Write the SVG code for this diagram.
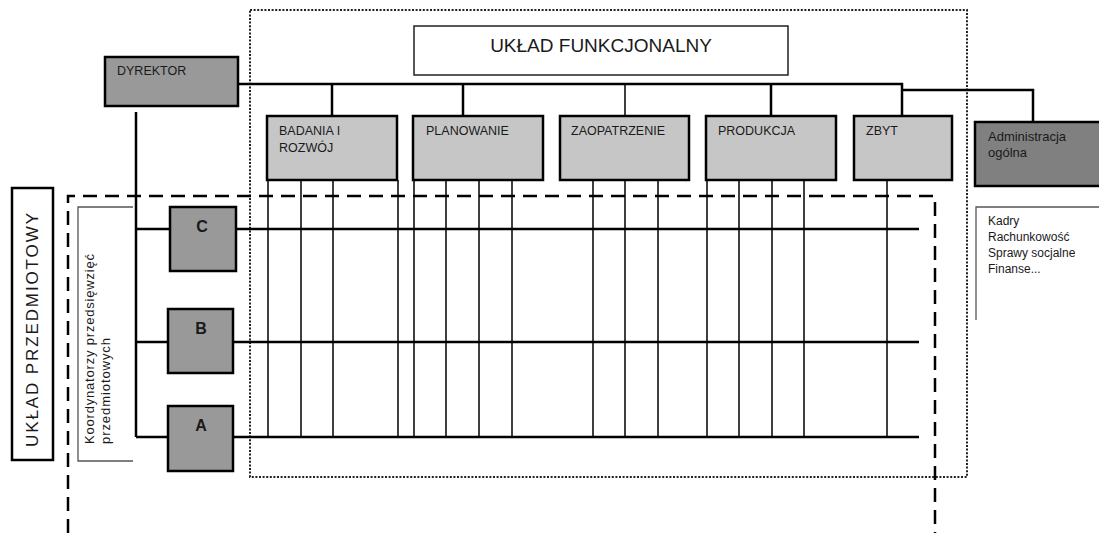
<svg xmlns="http://www.w3.org/2000/svg" width="1099" height="533" viewBox="0 0 1099 533">
<style>
text{font-family:"Liberation Sans",Arial,sans-serif;fill:#1a1a1a}
.lbl{font-size:12.5px}
.box{stroke:#000;stroke-width:2.5}
.dept{fill:#c6c6c6}
.dark{fill:#999}
.thick{stroke:#000;stroke-width:2.5;fill:none}
.thin{stroke:#000;stroke-width:1.5;fill:none}
.bracket{stroke:#555;stroke-width:1.3;fill:none}
.letter{font-size:16px;font-weight:bold;text-anchor:middle}
</style>
<rect width="1099" height="533" fill="#fff"/>
<!-- frames -->
<rect x="250" y="10" width="717" height="467" fill="none" stroke="#222" stroke-width="2" stroke-dasharray="2 1.6"/>
<path d="M68,533 V196 H935 V533" fill="none" stroke="#000" stroke-width="2.5" stroke-dasharray="14 8"/>

<g id="connectors">
  <path class="thick" d="M238,84 H902 V116 M902,90 H1033 V122"/>
  <path class="thick" d="M332,84 V116 M463,84 V116 M771,84 V116"/>
  <path class="thin" d="M625,84 V116"/>
  <path class="thick" d="M136,112 V437 M136,229 H170 M136,342 H168 M136,437 H168"/>
  <path class="thick" d="M236,229 H919 M233,342 H919 M233,437 H919"/>
  <path class="thin" d="M268,180 V437 M301,180 V437 M333,180 V437 M398,180 V437 M414,180 V437 M446,180 V437 M479,180 V437 M512,180 V437 M593,180 V437 M625,180 V437 M658,180 V437 M707,180 V437 M739,180 V437 M772,180 V437 M804,180 V437 M887,180 V437"/>
</g>

<g id="uklad-funkcjonalny">
  <rect x="414" y="26" width="374" height="49" fill="#fff" stroke="#222" stroke-width="1.5"/>
  <text x="601" y="52" font-size="19" text-anchor="middle">UKŁAD FUNKCJONALNY</text>
</g>
<g id="dyrektor">
  <rect class="box dark" x="105" y="57" width="133" height="49"/>
  <text class="lbl" x="117" y="75">DYREKTOR</text>
</g>
<g id="badania">
  <rect class="box dept" x="267" y="116" width="130" height="64"/>
  <text class="lbl" x="279" y="135">BADANIA I</text>
  <text class="lbl" x="279" y="152">ROZWÓJ</text>
</g>
<g id="planowanie">
  <rect class="box dept" x="413" y="116" width="130" height="64"/>
  <text class="lbl" x="426" y="135">PLANOWANIE</text>
</g>
<g id="zaopatrzenie">
  <rect class="box dept" x="560" y="116" width="129" height="64"/>
  <text class="lbl" x="571" y="135">ZAOPATRZENIE</text>
</g>
<g id="produkcja">
  <rect class="box dept" x="706" y="116" width="130" height="64"/>
  <text class="lbl" x="718" y="135">PRODUKCJA</text>
</g>
<g id="zbyt">
  <rect class="box dept" x="854" y="116" width="98" height="64"/>
  <text class="lbl" x="866" y="135">ZBYT</text>
</g>
<g id="administracja">
  <rect class="box" x="975" y="122" width="130" height="64" fill="#808080"/>
  <text x="988" y="141" font-size="13">Administracja</text>
  <text x="988" y="157" font-size="13">ogólna</text>
</g>
<g id="admin-list">
  <path class="bracket" d="M1099,207 H976 V320"/>
  <text x="988" y="225" font-size="12">Kadry</text>
  <text x="988" y="241" font-size="12">Rachunkowość</text>
  <text x="988" y="257" font-size="12">Sprawy socjalne</text>
  <text x="988" y="273" font-size="12">Finanse...</text>
</g>
<g id="uklad-przedmiotowy">
  <rect x="12" y="188" width="41" height="272" fill="#fff" stroke="#000" stroke-width="2.5"/>
  <text transform="translate(38,330) rotate(-90)" font-size="17" text-anchor="middle" textLength="234" lengthAdjust="spacing">UKŁAD PRZEDMIOTOWY</text>
</g>
<g id="koordynatorzy">
  <path class="bracket" d="M133,207 H78 V461 H133"/>
  <text transform="translate(94,444) rotate(-90)" font-size="13" textLength="190" lengthAdjust="spacing">Koordynatorzy przedsięwzięć</text>
  <text transform="translate(110,444) rotate(-90)" font-size="13" textLength="106" lengthAdjust="spacing">przedmiotowych</text>
</g>
<g id="node-c">
  <rect class="box dark" x="170" y="207" width="66" height="64"/>
  <text class="letter" x="202" y="232">C</text>
</g>
<g id="node-b">
  <rect class="box dark" x="168" y="309" width="65" height="64"/>
  <text class="letter" x="201" y="334">B</text>
</g>
<g id="node-a">
  <rect class="box dark" x="168" y="406" width="65" height="65"/>
  <text class="letter" x="201" y="431">A</text>
</g>
</svg>
